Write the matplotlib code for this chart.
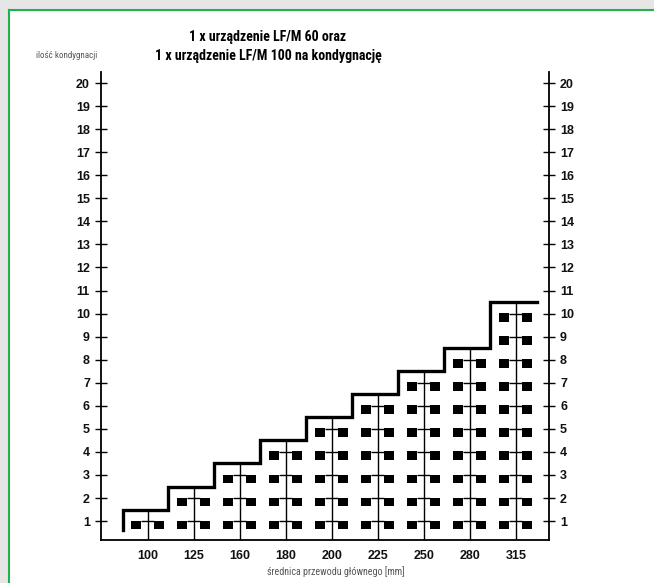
import numpy as np
import matplotlib.pyplot as plt
from matplotlib import font_manager as fm
from matplotlib.patches import Rectangle
from matplotlib.lines import Line2D

# data
diameters = ['100', '125', '160', '180', '200', '225', '250', '280', '315']
floors = [1, 2, 3, 4, 5, 6, 7, 8, 10]
y_ticks = list(range(1, 21))

title = '1 x urządzenie LF/M 60 oraz\n1 x urządzenie LF/M 100 na kondygnację'
xlabel = 'średnica przewodu głównego [mm]'
ylabel = 'ilość kondygnacji'

# pick a narrow face if one is around
installed = {f.name for f in fm.fontManager.ttflist}
narrow_name = 'Roboto'
for cand in ['Liberation Sans Narrow', 'Roboto Condensed', 'Open Sans Condensed',
             'Open Sans Condensed Bold', 'DejaVu Sans Condensed']:
    if cand in installed:
        narrow_name = cand
        break
narrow = [narrow_name, 'DejaVu Sans']
plain = ['Liberation Sans', 'DejaVu Sans']

W, H = 654, 583
fig = plt.figure(figsize=(W / 100, H / 100), dpi=100)
fig.patch.set_facecolor('#e6e6e6')

# white page with green edge on top and left
fig.patches.append(Rectangle((9 / W, 0), 1, 1 - 10 / H, transform=fig.transFigure,
                             facecolor='white', edgecolor='none', zorder=-10))
fig.lines.append(Line2D([9 / W, 9 / W], [0, 1 - 10 / H], transform=fig.transFigure,
                        color='#22b14c', lw=1.5, zorder=-5))
fig.lines.append(Line2D([9 / W, 1], [1 - 10 / H, 1 - 10 / H], transform=fig.transFigure,
                        color='#22b14c', lw=1.5, zorder=-5))

ax = fig.add_axes([101 / W, 43 / H, 448 / W, 468 / H])
ax.set_facecolor('none')

idx = np.arange(len(diameters))
levels = np.array(floors) + 0.5

# vertical line per column up to the stair
ax.vlines(idx, 0, levels, color='black', lw=1.0)

# two squares per floor with a thin connector
for i, n in zip(idx, floors):
    f = np.arange(1, n + 1)
    ax.bar(np.full(n, i - 0.25), 0.38, bottom=f - 0.36, width=0.22,
           color='black', edgecolor='none')
    ax.bar(np.full(n, i + 0.25), 0.38, bottom=f - 0.36, width=0.22,
           color='black', edgecolor='none')
    ax.hlines(f, i - 0.14, i + 0.14, color='black', lw=1.0)

# stair outline
sx = [-0.54, -0.54]
sy = [0.6, levels[0]]
for i in range(len(idx) - 1):
    sx += [i + 0.43, i + 0.43]
    sy += [levels[i], levels[i + 1]]
sx.append(len(idx) - 1 + 0.45)
sy.append(levels[-1])
ax.plot(sx, sy, color='black', lw=2.4, solid_joinstyle='miter')

ax.set_xlim(-1.02, 8.72)
ax.set_ylim(0.18, 20.48)
ax.set_xticks(idx)
ax.set_xticklabels(diameters)
ax.set_yticks(y_ticks)
ax.tick_params(axis='x', length=0, pad=7)
ax.tick_params(axis='y', direction='inout', length=8, width=1,
               left=True, right=True, labelleft=True, labelright=True, pad=4)
for lab in ax.get_xticklabels() + ax.get_yticklabels():
    lab.set_fontfamily(plain)
    lab.set_fontweight('bold')
    lab.set_fontsize(9)
    lab.set_color('#111111')

ax.spines['top'].set_visible(False)
for s in ['left', 'right', 'bottom']:
    ax.spines[s].set_linewidth(1.3)

fig.text(268 / W, 1 - 46.5 / H, title, ha='center', va='center', fontsize=10,
         fontweight='bold', family=narrow, fontstretch='condensed', linespacing=1.45)
fig.text(67 / W, 1 - 55 / H, ylabel, ha='center', va='center', fontsize=6.5,
         family=narrow, fontstretch='condensed', color='#555555')
fig.text(336 / W, 1 - 572 / H, xlabel, ha='center', va='center', fontsize=7.2,
         family=narrow, fontstretch='condensed', color='#555555')

fig.savefig('out.png', dpi=100, facecolor=fig.get_facecolor())
